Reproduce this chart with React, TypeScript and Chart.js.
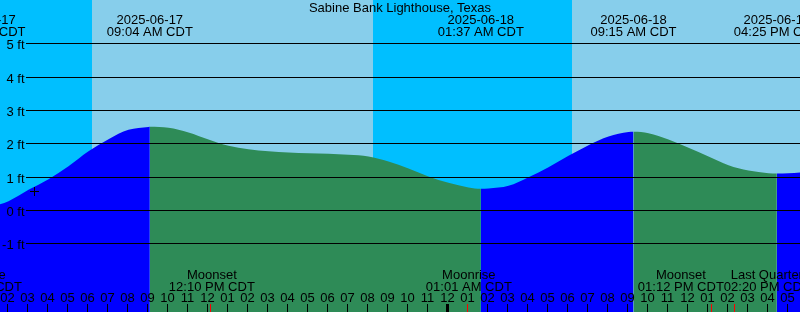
import React, { useEffect, useRef } from "react";
import { Chart, registerables } from "chart.js";

Chart.register(...registerables);

// ---- data (hours since 2025-06-17 00:00 CDT) ----
const stationName = "Sabine Bank Lighthouse, Texas";

const tideHours = [
  0.7, 1, 2, 3, 4, 5, 6, 7, 8, 9, 9.067, 10, 11, 12, 13, 14, 15, 16, 17, 18, 19, 20, 21, 22, 23, 24, 25,
  25.617, 26, 27, 28, 29, 30, 31, 32, 33, 33.25, 34, 35, 36, 37, 38, 39, 40, 40.417, 41, 42,
];
const tideFeet = [
  0.08, 0.1, 0.28, 0.62, 0.94, 1.33, 1.78, 2.14, 2.42, 2.505, 2.51, 2.48, 2.34, 2.13, 1.94, 1.84, 1.78, 1.74,
  1.72, 1.7, 1.67, 1.62, 1.47, 1.26, 1.02, 0.83, 0.69, 0.65, 0.66, 0.74, 1.0, 1.3, 1.64, 1.96, 2.22, 2.355,
  2.36, 2.32, 2.13, 1.88, 1.62, 1.36, 1.2, 1.12, 1.11, 1.12, 1.16,
];

const extremeHours = [0.7, 9.067, 25.617, 33.25, 40.417];
const extremeKinds = ["low", "high", "low", "high", "low"];
const extremeDates = ["2025-06-17", "2025-06-17", "2025-06-18", "2025-06-18", "2025-06-18"];
const extremeTimes = ["12:42 AM CDT", "09:04 AM CDT", "01:37 AM CDT", "09:15 AM CDT", "04:25 PM CDT"];

const sunsetHours = [-3.78, 20.22];
const sunriseHours = [6.18, 30.18];

const moonHours = [0.52, 12.167, 25.017, 37.2, 38.333];
const moonNames = ["Moonrise", "Moonset", "Moonrise", "Moonset", "Last Quarter"];
const moonTimes = ["12:31 AM CDT", "12:10 PM CDT", "01:01 AM CDT", "01:12 PM CDT", "02:20 PM CDT"];

const levelTicks = [-1, 0, 1, 2, 3, 4, 5];
const nowHour = [3.3];
const nowFeet = [0.5697];

const viewStart = 1.575;
const viewEnd = 41.575;
const levelMin = -3.043;
const levelMax = 6.312;

// ---- styles ----
const DAY = "#87CEEB";
const NIGHT = "#00BFFF";
const FLOOD = "#0000FF";
const EBB = "#2E8B57";
const FONT = "13px 'Liberation Sans', Arial, sans-serif";

function risingAt(h: number): boolean {
  let kind = "high";
  for (let i = 0; i < extremeHours.length; i++) {
    if (extremeHours[i] <= h) kind = extremeKinds[i];
  }
  return kind === "low";
}

function hourLabel(h: number): string {
  const hh = ((h % 12) + 12) % 12 || 12;
  return hh < 10 ? "0" + hh : String(hh);
}

export default function App() {
  const ref = useRef<HTMLCanvasElement>(null);

  useEffect(() => {
    const canvas = ref.current;
    if (!canvas) return;

    const decor = {
      id: "tideDecor",
      beforeDraw(chart: any) {
        const { ctx, scales } = chart;
        const xs = scales.x;
        ctx.save();
        ctx.fillStyle = DAY;
        ctx.fillRect(0, 0, chart.width, chart.height);
        ctx.fillStyle = NIGHT;
        for (let i = 0; i < sunsetHours.length; i++) {
          const a = Math.round(xs.getPixelForValue(sunsetHours[i]));
          const b = Math.round(xs.getPixelForValue(sunriseHours[i]));
          ctx.fillRect(a, 0, b - a, chart.height);
        }
        ctx.restore();
      },
      afterDatasetsDraw(chart: any) {
        const { ctx, scales } = chart;
        const xs = scales.x;
        const ys = scales.y;
        const W = chart.width;
        ctx.save();
        ctx.strokeStyle = "#000";
        ctx.lineWidth = 1;
        ctx.font = FONT;
        ctx.fillStyle = "#000";
        ctx.textBaseline = "alphabetic";
        for (const lv of levelTicks) {
          const y = Math.floor(ys.getPixelForValue(lv));
          ctx.beginPath();
          ctx.moveTo(26, y + 0.5);
          ctx.lineTo(W, y + 0.5);
          ctx.stroke();
          ctx.textAlign = "right";
          ctx.fillText(lv + " ft", 24.5, y + 5.5);
        }
        // "now" marker from the scales
        for (let i = 0; i < nowHour.length; i++) {
          const cx = Math.floor(xs.getPixelForValue(nowHour[i]));
          const cy = Math.floor(ys.getPixelForValue(nowFeet[i]));
          ctx.fillRect(cx - 4, cy, 9, 1);
          ctx.fillRect(cx, cy - 4, 1, 9);
        }
        ctx.textAlign = "center";
        ctx.fillText(stationName, 400, 12);
        for (let i = 0; i < extremeHours.length; i++) {
          const x = xs.getPixelForValue(extremeHours[i]);
          ctx.fillText(extremeDates[i], x, 24);
          ctx.fillText(extremeTimes[i], x, 36);
        }
        const first = Math.ceil(viewStart);
        const last = Math.floor(viewEnd + 1);
        for (let h = first; h <= last; h++) {
          const px = Math.floor(xs.getPixelForValue(h)) - 1;
          if (h % 24 === 0) {
            ctx.fillRect(px - 1, 304, 3, 8);
          } else {
            ctx.fillRect(px, 304, 1, 8);
          }
          ctx.fillText(hourLabel(h), px + 0.5, 302);
        }
        ctx.fillStyle = "#FF0000";
        for (const mh of moonHours) {
          const px = Math.floor(xs.getPixelForValue(mh)) - 1;
          ctx.fillRect(px, 304, 1, 8);
        }
        ctx.fillStyle = "#000";
        const centres = moonHours.map((mh) => xs.getPixelForValue(mh));
        const widths = moonHours.map((_, i) =>
          Math.max(ctx.measureText(moonNames[i]).width, ctx.measureText(moonTimes[i]).width)
        );
        for (let i = 0; i + 1 < centres.length; i++) {
          const need = (widths[i] + widths[i + 1]) / 2;
          const gap = centres[i + 1] - centres[i];
          if (gap < need) {
            const shift = (need - gap) / 2;
            centres[i] -= shift;
            centres[i + 1] += shift;
          }
        }
        for (let i = 0; i < centres.length; i++) {
          ctx.fillText(moonNames[i], centres[i], 278.5);
          ctx.fillText(moonTimes[i], centres[i], 290.5);
        }
        ctx.restore();
      },
    };

    const chart = new Chart(canvas, {
      type: "line",
      data: {
        datasets: [
          {
            label: "tide",
            data: tideHours.map((h, i) => ({ x: h, y: tideFeet[i] })),
            fill: "start",
            borderWidth: 0,
            borderColor: "rgba(0,0,0,0)",
            backgroundColor: EBB,
            pointRadius: 0,
            cubicInterpolationMode: "monotone",
            segment: {
              backgroundColor: (c: any) => {
                const a = tideHours[c.p0DataIndex];
                const b = tideHours[c.p1DataIndex];
                return risingAt((a + b) / 2) ? FLOOD : EBB;
              },
            },
          } as any,
        ],
      },
      options: {
        responsive: false,
        animation: false,
        devicePixelRatio: 1,
        events: [],
        layout: { padding: 0, autoPadding: false },
        plugins: {
          legend: { display: false },
          tooltip: { enabled: false },
          title: { display: false },
        },
        scales: {
          x: { type: "linear", min: viewStart, max: viewEnd, display: false },
          y: { type: "linear", min: levelMin, max: levelMax, display: false },
        },
      },
      plugins: [decor],
    });

    return () => chart.destroy();
  }, []);

  return (
    <div style={{ position: "absolute", left: 0, top: 0, width: 800, height: 312 }}>
      <canvas ref={ref} width={800} height={312} style={{ display: "block" }} />
    </div>
  );
}
